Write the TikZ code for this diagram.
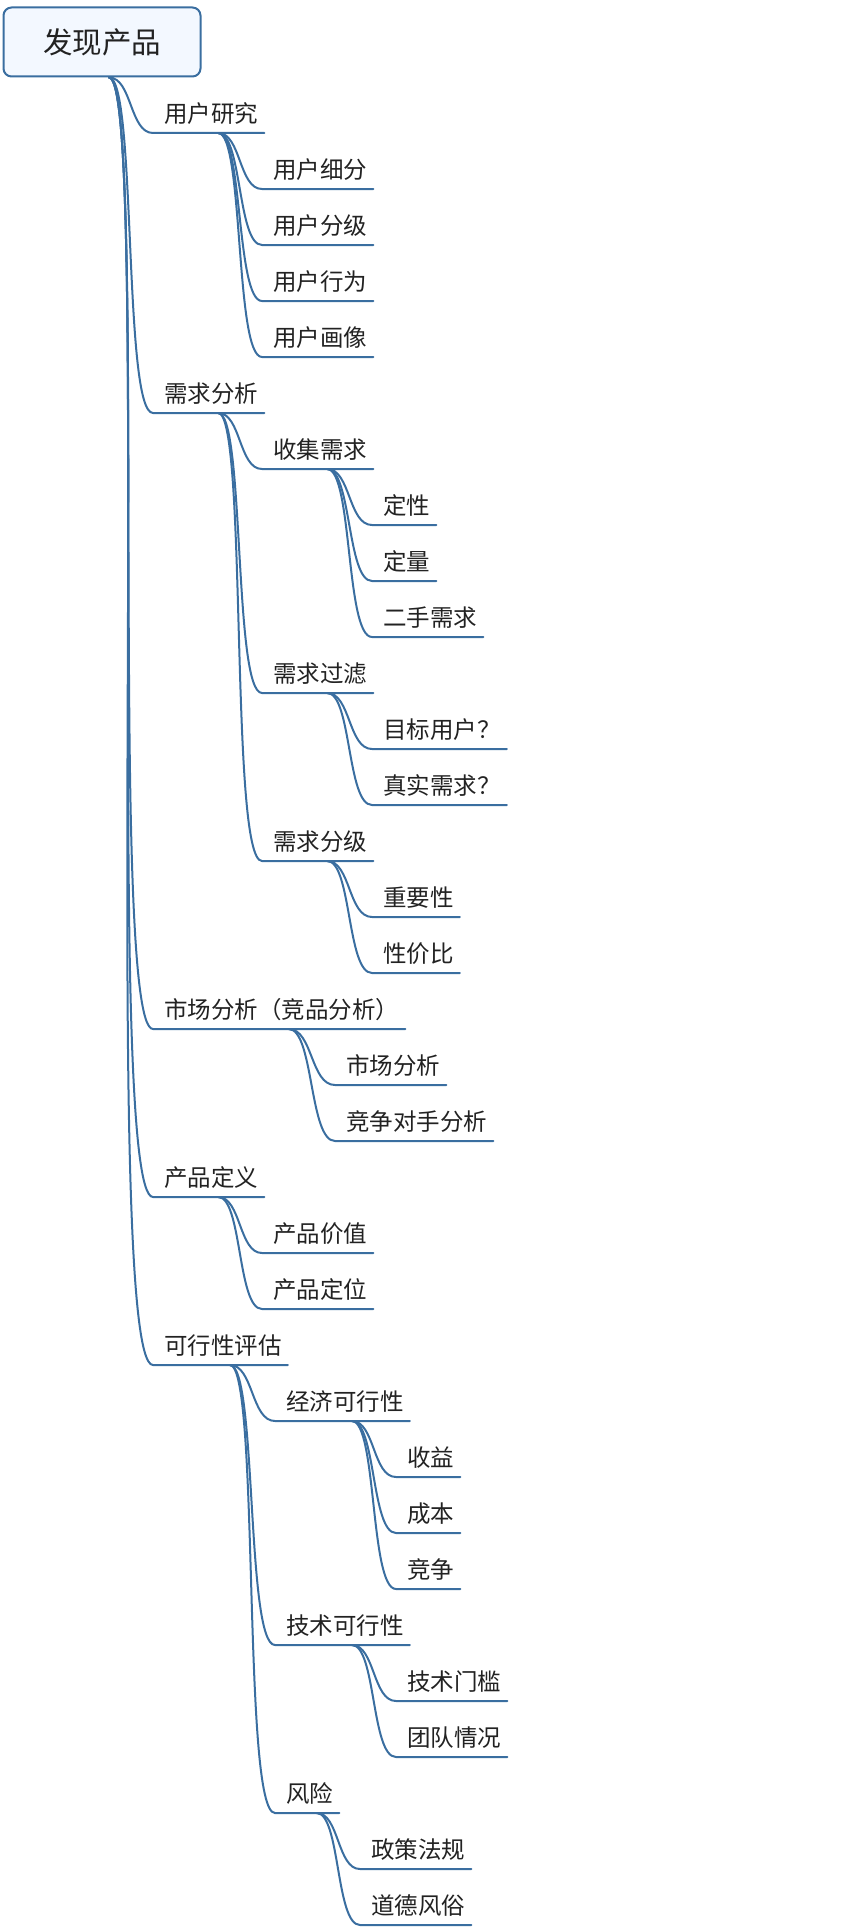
\documentclass[tikz,border=0pt]{standalone}
\usepackage{fontspec}
\usetikzlibrary{calc}
\newfontfamily\cjk{Noto Sans CJK SC}
\definecolor{linecol}{HTML}{3A6EA0}
\definecolor{rootfill}{HTML}{F3F8FF}
\definecolor{txtcol}{HTML}{222222}
\newcommand{\topicfont}{\cjk\fontsize{23.5}{28}\selectfont}
\newcommand{\rootfont}{\cjk\fontsize{29.5}{34}\selectfont}
% curved branch from a parent topic to a child topic, with the child's underline
\newcommand{\topiclink}[2]{%
	\draw[branch] let \p1=([xshift=7pt]#1.south), \p2=([xshift=-11pt]#2.south west),
		\n1={\x2-\x1}, \n2={\y1-\y2} in
		(\p1) .. controls ({\x1+0.5*\n1+0.017*\n2},\y1) and ({\x2-0.5*\n1-0.024*\n2},\y2) .. (\p2)
		-- ([xshift=6pt]#2.south east);}
\begin{document}
\begin{tikzpicture}[
	x=1pt, y=-1pt,
	topic/.style={ anchor=south west, inner sep=0pt, text height=20pt, text depth=10.5pt, font=\topicfont, text=txtcol },
	rootbox/.style={ draw=linecol, line width=2pt, fill=rootfill, rounded corners=8pt, minimum width=197pt, minimum height=69pt, inner sep=0pt, font=\rootfont, text=txtcol },
	branch/.style={ draw=linecol, line width=2pt, line cap=round }
]
\useasboundingbox (0,0) rectangle (850,1932);

% central topic
\node at (102,42) (root) [rootbox] {发现产品};

% user research
\node at (164,133) (yhyj) [topic] {用户研究};
\node at (273,189) (yhxf) [topic] {用户细分};
\node at (273,245) (yhfj) [topic] {用户分级};
\node at (273,301) (yhxw) [topic] {用户行为};
\node at (273,357) (yhhx) [topic] {用户画像};
\foreach \c in {yhxf,yhfj,yhxw,yhhx} \topiclink{yhyj}{\c};

% requirement analysis
\node at (164,413) (xqfx) [topic] {需求分析};
\node at (273,469) (sjxq) [topic] {收集需求};
\node at (383,525) (dx) [topic] {定性};
\node at (383,581) (dl) [topic] {定量};
\node at (383,637) (eshou) [topic] {二手需求};
\node at (273,693) (xqgl) [topic] {需求过滤};
\node at (383,749) (mbyh) [topic] {目标用户？};
\node at (383,805) (zsxq) [topic] {真实需求？};
\node at (273,861) (xqfj) [topic] {需求分级};
\node at (383,917) (zyx) [topic] {重要性};
\node at (383,973) (xjb) [topic] {性价比};
\foreach \c in {sjxq,xqgl,xqfj} \topiclink{xqfx}{\c};
\foreach \c in {dx,dl,eshou} \topiclink{sjxq}{\c};
\foreach \c in {mbyh,zsxq} \topiclink{xqgl}{\c};
\foreach \c in {zyx,xjb} \topiclink{xqfj}{\c};

% market analysis
\node at (164,1029) (scfx) [topic] {市场分析（竞品分析）};
\node at (346,1085) (scfxb) [topic] {市场分析};
\node at (346,1141) (jzds) [topic] {竞争对手分析};
\foreach \c in {scfxb,jzds} \topiclink{scfx}{\c};

% product definition
\node at (164,1197) (cpdy) [topic] {产品定义};
\node at (273,1253) (cpjz) [topic] {产品价值};
\node at (273,1309) (cpdw) [topic] {产品定位};
\foreach \c in {cpjz,cpdw} \topiclink{cpdy}{\c};

% feasibility
\node at (164,1365) (kxx) [topic] {可行性评估};
\node at (286,1421) (jjkx) [topic] {经济可行性};
\node at (407,1477) (sy) [topic] {收益};
\node at (407,1533) (cb) [topic] {成本};
\node at (407,1589) (jz) [topic] {竞争};
\node at (286,1645) (jskx) [topic] {技术可行性};
\node at (407,1701) (jsmk) [topic] {技术门槛};
\node at (407,1757) (tdqk) [topic] {团队情况};
\node at (286,1813) (fx) [topic] {风险};
\node at (371,1869) (zcfg) [topic] {政策法规};
\node at (371,1925) (ddfs) [topic] {道德风俗};
\foreach \c in {jjkx,jskx,fx} \topiclink{kxx}{\c};
\foreach \c in {sy,cb,jz} \topiclink{jjkx}{\c};
\foreach \c in {jsmk,tdqk} \topiclink{jskx}{\c};
\foreach \c in {zcfg,ddfs} \topiclink{fx}{\c};

% main branches
\foreach \c in {yhyj,xqfx,scfx,cpdy,kxx} \topiclink{root}{\c};

\end{tikzpicture}
\end{document}
